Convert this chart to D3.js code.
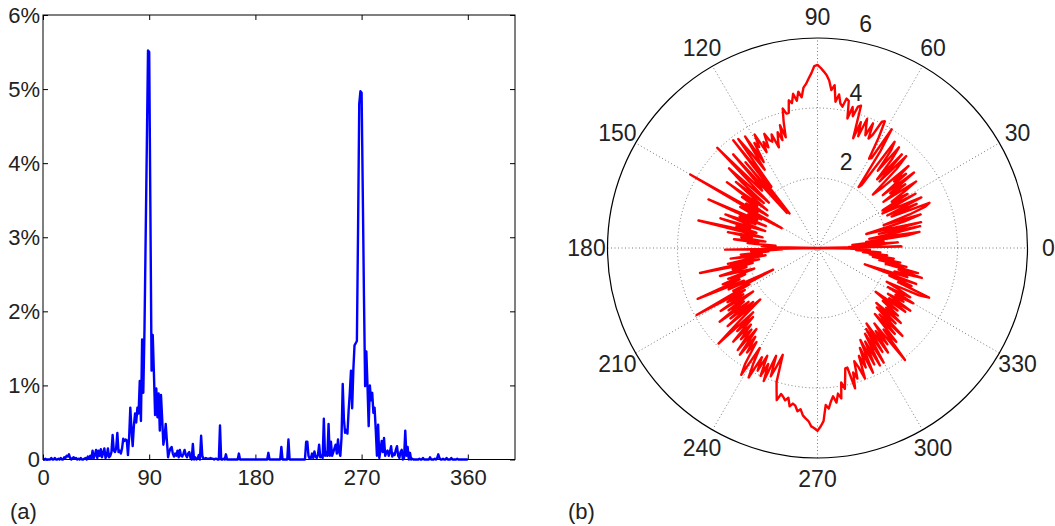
<!DOCTYPE html>
<html>
<head>
<meta charset="utf-8">
<script src="https://cdn.jsdelivr.net/npm/d3@7"></script>
<style>
  body { margin: 0; background: #fff; }
  svg { display: block; }
  text { font-family: "Liberation Sans", Arial, Helvetica, sans-serif; fill: #222; }
</style>
</head>
<body>
<svg id="fig" width="1055" height="526"></svg>
<script>
// (a) share of orientations per degree, 0..360 (percent)
const histDegrees = d3.range(0, 361);
const histShare = [
  0,0,0.01,0,0,0,0,0.02,0,0,
  0.02,0,0,0.01,0,0.02,0,0,0.03,0.02,
  0.05,0.04,0.07,0.02,0,0.02,0.03,0.01,0.02,0,
  0.01,0,0.02,0,0,0.01,0.02,0,0.04,0.02,
  0.05,0.01,0.12,0.02,0.06,0.13,0.02,0.12,0.05,0.14,
  0.03,0.09,0.15,0.02,0.05,0.15,0.03,0.05,0.1,0.33,
  0.12,0.1,0.15,0.36,0.1,0.12,0.08,0.15,0.28,0.25,
  0.27,0.26,0.06,0.3,0.7,0.4,0.18,0.45,0.62,0.5,
  0.7,0.62,1.06,0.52,1.62,0.9,1.75,3.0,4.25,5.52,
  5.5,3.4,1.2,1.68,1.16,0.6,0.96,0.57,0.89,0.39,
  0.87,0.55,0.2,0.3,0.48,0.25,0.03,0.1,0.15,0.17,
  0.08,0.04,0.08,0.05,0.12,0.03,0.13,0.05,0.04,0.08,
  0.13,0.06,0.03,0.08,0.1,0.02,0,0.21,0,0.03,
  0,0.01,0.06,0,0.32,0.05,0.01,0.01,0.02,0.01,
  0.01,0.01,0.02,0.01,0.01,0,0.01,0.01,0,0,
  0.46,0,0,0.01,0,0.07,0,0,0,0,
  0,0,0,0,0,0,0.08,0,0,0,
  0,0,0,0,0,0,0,0,0,0,
  0,0,0,0,0,0,0,0,0,0,
  0,0.09,0,0,0,0,0,0,0,0,
  0,0,0.17,0,0,0,0,0,0.27,0,
  0,0,0,0,0,0,0,0,0,0,
  0,0,0,0.24,0.24,0.05,0.01,0.02,0.08,0.02,
  0.11,0.04,0.02,0.06,0.2,0.03,0.05,0.02,0.55,0.05,
  0.1,0.05,0.48,0.05,0.24,0.05,0.1,0.15,0.2,0.08,
  0.27,0.1,0.05,0.3,1.02,0.55,0.36,0.4,0.35,0.66,
  0.9,1.2,0.69,1.21,1.54,1.57,1.6,3.1,4.8,4.97,
  4.95,3.6,2.2,0.99,1.46,1.0,0.45,1.0,0.8,0.9,
  0.63,0.7,0.4,0.05,0.47,0.02,0.12,0.25,0.1,0.29,
  0.05,0.1,0.12,0.05,0.1,0.18,0.04,0.08,0.06,0.13,
  0.18,0.05,0.02,0.1,0.13,0,0.02,0.39,0.05,0.17,
  0,0.09,0,0.01,0,0,0,0,0,0.01,
  0,0,0.02,0,0,0,0,0,0.03,0,
  0,0,0.01,0,0.02,0.07,0.02,0,0,0.01,
  0,0,0.02,0,0,0,0.02,0,0,0,
  0,0.01,0,0,0,0,0,0,0,0,
  0
];
const histXTicks = [0, 90, 180, 270, 360];
const histYTicks = [0, 1, 2, 3, 4, 5, 6];

// (b) polar profile, one radius per degree 0..360
const polarDegrees = d3.range(0, 361);
const polarRadius = [
  0,2.4,0.9,1.6,2.3,1.0,1.9,1.4,2.6,2.95,
  1.5,2.3,3.0,1.8,3.05,2.2,1.45,2.6,3.1,2.0,
  2.8,3.3,3.45,2.3,3.1,2.2,3.3,2.6,2.1,3.2,
  2.15,3.0,2.5,2.95,3.4,2.3,3.1,2.6,3.5,2.4,
  3.3,2.9,3.5,2.5,2.2,3.2,3.65,2.6,3.6,2.6,
  3.3,3.7,2.8,3.5,3.75,2.2,2.1,3.3,4.0,3.0,
  2.95,3.6,4.1,4.05,3.6,3.45,3.9,3.5,3.7,3.95,
  3.4,3.8,3.3,4.25,4.2,3.9,4.15,3.8,4.3,4.35,
  4.1,4.18,4.43,4.21,4.68,4.53,4.8,4.95,5.05,5.15,
  5.23,5.2,5.0,4.85,4.7,4.6,4.33,4.5,4.25,4.46,
  4.2,4.3,3.95,3.94,4.11,3.74,3.29,3.67,3.24,3.5,
  3.3,3.08,3.5,3.3,3.37,3.6,3.2,3.4,3.1,3.71,
  3.33,3.5,2.9,3.8,2.7,3.3,3.85,2.19,3.91,1.27,
  3.2,1.33,3.6,2.4,2.28,4.05,2.6,1.9,3.4,2.86,
  2.0,3.0,2.3,1.8,3.2,2.1,2.6,1.7,2.4,2.0,
  4.2,1.17,2.5,1.8,2.2,1.9,3.41,1.6,2.4,1.9,
  2.8,2.2,1.57,2.9,2.0,2.4,1.8,3.49,2.0,1.6,
  2.6,1.9,2.2,1.5,2.4,1.7,2.0,1.2,1.6,1.2,
  0,2.64,1.0,1.9,1.4,2.2,1.6,2.5,1.5,2.0,
  2.6,1.7,3.43,1.9,2.5,2.1,2.9,2.3,1.9,2.7,
  2.2,2.9,2.4,3.72,2.3,2.8,1.41,2.7,2.2,3.95,
  2.4,3.0,2.5,3.3,2.22,3.1,2.6,3.5,2.5,3.2,
  2.4,3.4,2.2,3.0,3.93,2.6,3.3,2.7,3.6,2.9,
  3.4,3.0,3.7,2.9,3.77,3.1,3.6,3.2,3.9,4.23,
  3.3,3.8,4.19,3.5,3.9,3.4,4.0,3.6,4.1,3.3,
  3.9,3.56,3.21,4.0,4.24,4.5,4.3,4.36,4.45,4.36,
  4.59,4.5,4.55,4.7,4.63,4.8,4.88,4.95,5.1,5.15,
  5.22,5.1,4.95,4.49,4.6,4.4,4.26,4.45,4.2,4.35,
  3.9,4.1,3.8,3.53,3.52,4.15,3.7,3.9,3.4,3.6,
  3.97,3.3,3.68,3.1,3.9,2.9,3.7,3.0,3.8,2.8,
  3.78,2.7,3.5,2.57,3.6,2.9,3.4,2.7,4.06,3.0,
  3.5,2.5,3.3,2.6,3.49,2.4,3.1,2.3,3.2,2.6,
  3.0,2.4,2.9,2.08,3.1,2.5,3.2,2.4,2.9,2.6,
  3.16,2.3,3.0,2.6,2.2,3.2,3.49,2.5,2.9,2.2,
  3.0,1.43,2.7,2.3,3.1,2.4,2.96,2.0,2.6,1.8,
  2.4,1.6,2.2,1.5,2.0,1.3,1.8,1.1,1.5,0.9,
  0
];
const polarSpokes = [0, 30, 60, 90, 120, 150, 180, 210, 240, 270, 300, 330];
const polarRings = [2, 4];
const polarRingLabels = [2, 4, 6];

const svg = d3.select("#fig");

// ---------- (a) line chart ----------
const x = d3.scaleLinear().domain([0, 400]).range([43, 515]);
const y = d3.scaleLinear().domain([0, 6]).range([459.5, 15]);
const gA = svg.append("g");

function styleAxis(g) {
  g.select(".domain").remove();
  g.selectAll(".tick line").attr("stroke", "#000");
  g.selectAll(".tick text").style("font-size", "22px").attr("fill", "#222");
}

gA.append("g").attr("transform", `translate(0,${y(0)})`)
  .call(d3.axisBottom(x).tickValues(histXTicks).tickSize(-5).tickPadding(10))
  .call(styleAxis);
gA.append("g").attr("transform", `translate(0,${y(6)})`)
  .call(d3.axisTop(x).tickValues(histXTicks).tickSize(-5).tickFormat(""))
  .call(styleAxis);
gA.append("g").attr("transform", `translate(${x(0)},0)`)
  .call(d3.axisLeft(y).tickValues(histYTicks).tickSize(-5).tickPadding(3)
    .tickFormat(d => d === 0 ? "0" : d + "%"))
  .call(styleAxis);
gA.append("g").attr("transform", `translate(${x(400)},0)`)
  .call(d3.axisRight(y).tickValues(histYTicks).tickSize(-5).tickFormat(""))
  .call(styleAxis);

gA.append("path")
  .datum(histDegrees.map((d, i) => [d, histShare[i]]))
  .attr("fill", "none")
  .attr("stroke", "#0000ff")
  .attr("stroke-width", 2.4)
  .attr("stroke-linejoin", "round")
  .attr("d", d3.line().x(d => x(d[0])).y(d => y(d[1])));

gA.append("rect")
  .attr("x", x(0)).attr("y", y(6))
  .attr("width", x(400) - x(0)).attr("height", y(0) - y(6))
  .attr("fill", "none").attr("stroke", "#000").attr("stroke-width", 1);

svg.append("text").attr("x", 10).attr("y", 519).style("font-size", "22px").text("(a)");

// ---------- (b) polar plot ----------
const cx = 817.5, cy = 248, R = 210;
const r = d3.scaleLinear().domain([0, 6]).range([0, R]);
const rad = deg => deg * Math.PI / 180;
const gB = svg.append("g").attr("transform", `translate(${cx},${cy})`);

gB.selectAll("line.spoke").data(polarSpokes.filter(d => d < 180)).join("line")
  .attr("class", "spoke")
  .attr("x1", d => -r(6) * Math.cos(rad(d))).attr("y1", d => r(6) * Math.sin(rad(d)))
  .attr("x2", d => r(6) * Math.cos(rad(d))).attr("y2", d => -r(6) * Math.sin(rad(d)))
  .attr("stroke", "#777").attr("stroke-width", 1).attr("stroke-dasharray", "1,2.5");

gB.selectAll("circle.ring").data(polarRings).join("circle")
  .attr("class", "ring").attr("r", d => r(d))
  .attr("fill", "none").attr("stroke", "#777").attr("stroke-width", 1)
  .attr("stroke-dasharray", "1,2.5");

gB.append("circle").attr("r", r(6))
  .attr("fill", "none").attr("stroke", "#000").attr("stroke-width", 1.2);

gB.selectAll("text.ang").data(polarSpokes).join("text")
  .attr("class", "ang")
  .attr("x", d => 1.1 * r(6) * Math.cos(rad(d)))
  .attr("y", d => -1.1 * r(6) * Math.sin(rad(d)))
  .attr("text-anchor", "middle").attr("dominant-baseline", "central")
  .style("font-size", "23px").text(d => d);

gB.selectAll("text.rl").data(polarRingLabels).join("text")
  .attr("class", "rl")
  .attr("x", d => r(d + 0.1) * Math.cos(rad(82)) + 12)
  .attr("y", d => -r(d + 0.1) * Math.sin(rad(82)) - 5)
  .style("font-size", "23px").text(d => d);

gB.append("path")
  .datum(polarDegrees.map((d, i) => [d, polarRadius[i]]))
  .attr("fill", "none")
  .attr("stroke", "#ff0000")
  .attr("stroke-width", 2.4)
  .attr("stroke-linejoin", "round")
  .attr("d", d3.lineRadial().angle(d => Math.PI / 2 - rad(d[0])).radius(d => r(d[1])));

svg.append("text").attr("x", 568).attr("y", 519).style("font-size", "22px").text("(b)");
</script>
</body>
</html>
